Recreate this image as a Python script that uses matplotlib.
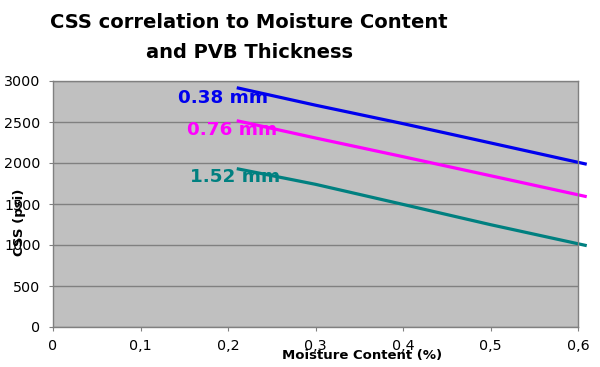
import matplotlib
matplotlib.use("Agg")
import matplotlib.pyplot as plt
import numpy as np

x_vals = [0.21, 0.3, 0.4, 0.5, 0.61]
css_038 = [2918, 2705, 2480, 2245, 1985]
css_076 = [2516, 2305, 2077, 1845, 1589]
css_152 = [1931, 1740, 1495, 1248, 992]
series_labels = ["0.38 mm", "0.76 mm", "1.52 mm"]
series_colors = ["#0000EE", "#FF00FF", "#008080"]
label_pos = [(0.143, 2793), (0.153, 2400), (0.157, 1830)]
x_ticks = [0, 0.1, 0.2, 0.3, 0.4, 0.5, 0.6]
x_ticklabels = ["0", "0,1", "0,2", "0,3", "0,4", "0,5", "0,6"]
y_ticks = [0, 500, 1000, 1500, 2000, 2500, 3000]

plt.rcParams['font.family'] = ['DejaVu Sans']
fig = plt.figure(figsize=(6, 3.67), dpi=100)
ax = fig.add_axes([53/600, 40/367, 525/600, 246/367])
ax.set_facecolor("#C0C0C0")
for ys, c in zip([css_038, css_076, css_152], series_colors):
    ax.plot(x_vals, ys, color=c, lw=2.3, clip_on=False, solid_capstyle='butt')
for lab, (lx, ly), c in zip(series_labels, label_pos, series_colors):
    ax.text(lx, ly, lab, color=c, fontsize=13.2, fontweight='bold', va='center', ha='left')
ax.set_xlim(0, 0.6)
ax.set_ylim(0, 3000)
ax.set_xticks(x_ticks)
ax.set_xticklabels(x_ticklabels, fontsize=10.3)
ax.set_yticks(y_ticks)
ax.set_yticklabels([str(v) for v in y_ticks], fontsize=10.3)
ax.yaxis.grid(True, color="#808080", lw=1)
ax.set_axisbelow(True)
for s in ax.spines.values():
    s.set_color("#808080")
    s.set_linewidth(1)
ax.tick_params(axis='both', color="#808080", length=3, direction='out')
ax.tick_params(axis='y', pad=6)
ax.tick_params(axis='x', pad=5.5)
fig.text(249/600, 1-22/367, "CSS correlation to Moisture Content", ha='center', va='center', fontsize=14, fontweight='bold')
fig.text(249/600, 1-52/367, "and PVB Thickness", ha='center', va='center', fontsize=14, fontweight='bold')
fig.text(362/600, 1-355/367, "Moisture Content (%)", ha='center', va='center', fontsize=9.5, fontweight='bold')
fig.text(20/600, 1-222/367, "CSS (psi)", ha='center', va='center', fontsize=9.5, fontweight='bold', rotation=90)
fig.savefig("out.png", dpi=100, facecolor='white')
